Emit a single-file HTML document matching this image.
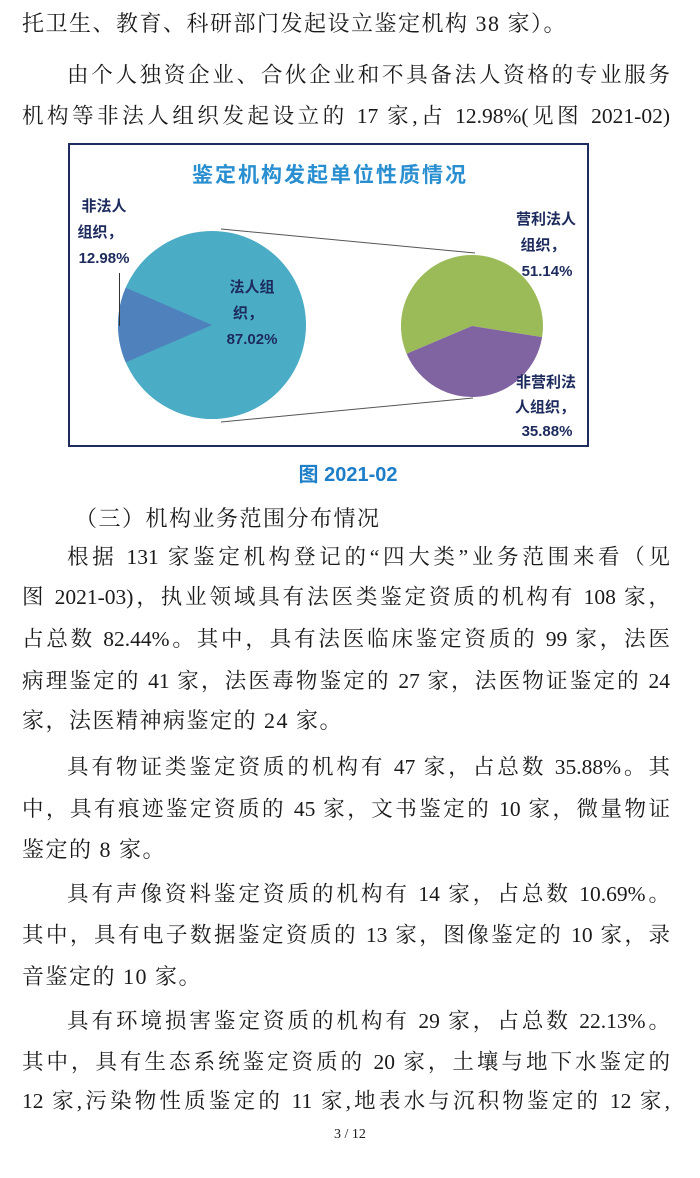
<!DOCTYPE html>
<html><head><meta charset="utf-8">
<style>
html,body{margin:0;padding:0;background:#fff;}
body{width:700px;height:1178px;position:relative;overflow:hidden;font-family:"Liberation Serif","Noto Serif CJK SC",serif;color:#1a1a1a;}
.l{position:absolute;font-size:22px;line-height:30px;height:30px;white-space:nowrap;letter-spacing:1.5px;}
.j{text-align:justify;text-align-last:justify;letter-spacing:0;font-size:21.5px;}
.f{left:22px;width:648px;}
.i{left:67px;width:603px;}
</style></head><body>
<div class="l" style="left:22px;top:9px;">托卫生、教育、科研部门发起设立鉴定机构 38 家）。</div>
<div class="l j i" style="top:60px;">由个人独资企业、合伙企业和不具备法人资格的专业服务</div>
<div class="l j f" style="top:101px;">机构等非法人组织发起设立的 17 家,占 12.98%(见图 2021-02)</div>

<svg style="position:absolute;left:0;top:0" width="700" height="460">
<rect x="69" y="144" width="519" height="302" fill="#fff" stroke="#1f2d5e" stroke-width="2"/>
<text x="330" y="182" text-anchor="middle" font-family="Liberation Sans,Noto Sans CJK SC,sans-serif" font-size="21" font-weight="bold" fill="#2a8fd0" letter-spacing="2">鉴定机构发起单位性质情况</text>
<line x1="221" y1="229" x2="475" y2="253" stroke="#555" stroke-width="1"/>
<line x1="221" y1="422" x2="473" y2="398" stroke="#555" stroke-width="1"/>
<circle cx="212" cy="325" r="94" fill="#4bacc6"/>
<path d="M212,325 L125.7,287.7 A94,94 0 0 0 125.7,362.3 Z" fill="#4f81bd"/>
<line x1="119.5" y1="273" x2="119.5" y2="326" stroke="#333" stroke-width="1"/>
<path d="M472,326 L542.1,337.1 A71,71 0 1 0 406.6,353.7 Z" fill="#9bbb59"/>
<path d="M472,326 L542.1,337.1 A71,71 0 0 1 406.6,353.7 Z" fill="#8064a2"/>
<g font-family="Liberation Sans,Noto Sans CJK SC,sans-serif" font-size="15" font-weight="bold" fill="#1c2a5c" text-anchor="middle">
<text x="104" y="211">非法人</text>
<text x="100" y="237">组织，</text>
<text x="104" y="263">12.98%</text>
<text x="252" y="292">法人组</text>
<text x="248" y="318">织，</text>
<text x="252" y="344">87.02%</text>
<text x="546" y="224">营利法人</text>
<text x="543" y="250">组织，</text>
<text x="547" y="276">51.14%</text>
<text x="546" y="387">非营利法</text>
<text x="545" y="412">人组织，</text>
<text x="547" y="436">35.88%</text>
</g>
</svg>

<div class="l" style="left:0;width:700px;text-align:center;top:460px;font-family:'Liberation Sans','Noto Sans CJK SC',sans-serif;font-weight:bold;font-size:20px;color:#1e7fc8;letter-spacing:0;"><span style="position:relative;left:-2px">图 2021-02</span></div>
<div class="l" style="left:75px;top:504px;">（三）机构业务范围分布情况</div>
<div class="l j i" style="top:542px;">根据 131 家鉴定机构登记的“四大类”业务范围来看（见</div>
<div class="l j f" style="top:582px;">图 2021-03)，执业领域具有法医类鉴定资质的机构有 108 家，</div>
<div class="l j f" style="top:624px;">占总数 82.44%。其中，具有法医临床鉴定资质的 99 家，法医</div>
<div class="l j f" style="top:666px;">病理鉴定的 41 家，法医毒物鉴定的 27 家，法医物证鉴定的 24</div>
<div class="l" style="left:22px;top:706px;">家，法医精神病鉴定的 24 家。</div>
<div class="l j i" style="top:752px;">具有物证类鉴定资质的机构有 47 家，占总数 35.88%。其</div>
<div class="l j f" style="top:794px;">中，具有痕迹鉴定资质的 45 家，文书鉴定的 10 家，微量物证</div>
<div class="l" style="left:22px;top:835px;">鉴定的 8 家。</div>
<div class="l j i" style="top:879px;">具有声像资料鉴定资质的机构有 14 家，占总数 10.69%。</div>
<div class="l j f" style="top:920px;">其中，具有电子数据鉴定资质的 13 家，图像鉴定的 10 家，录</div>
<div class="l" style="left:22px;top:962px;">音鉴定的 10 家。</div>
<div class="l j i" style="top:1006px;">具有环境损害鉴定资质的机构有 29 家，占总数 22.13%。</div>
<div class="l j f" style="top:1047px;">其中，具有生态系统鉴定资质的 20 家，土壤与地下水鉴定的</div>
<div class="l j f" style="top:1086px;">12 家,污染物性质鉴定的 11 家,地表水与沉积物鉴定的 12 家,</div>
<div style="position:absolute;left:0;width:700px;top:1126px;text-align:center;font-size:14px;line-height:18px;">3 / 12</div>
</body></html>
